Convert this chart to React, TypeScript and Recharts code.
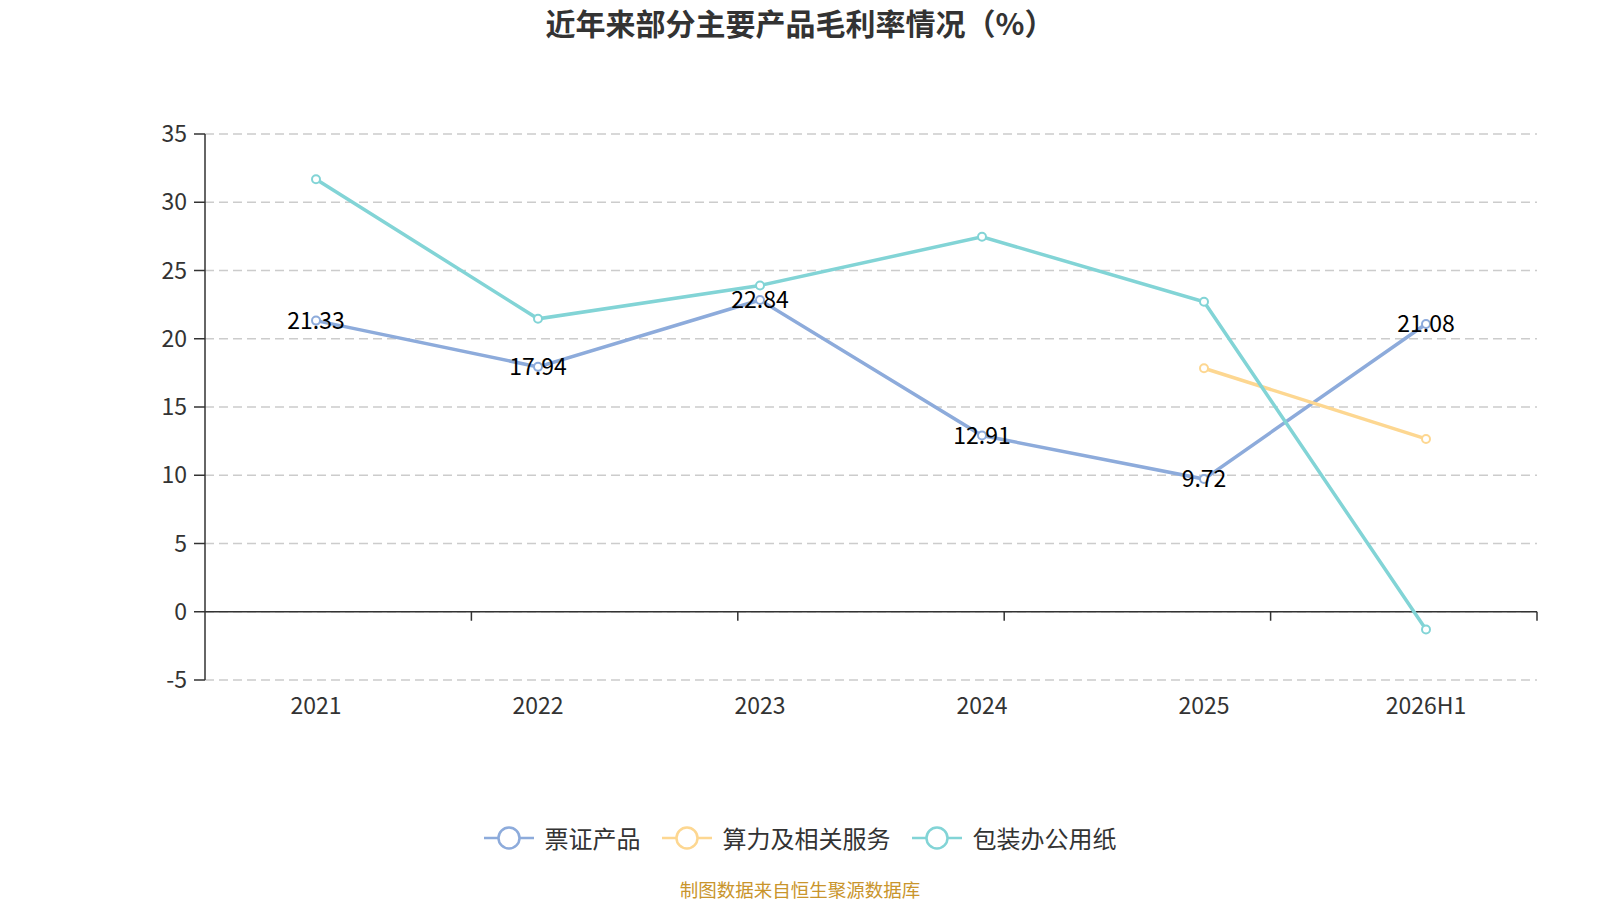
import React from "react";
import {
  LineChart,
  Line,
  XAxis,
  YAxis,
  CartesianGrid,
  ReferenceLine,
  LabelList,
} from "recharts";

const FONT = '"Noto Sans CJK SC", "Noto Sans", sans-serif';

const years = ["2021", "2022", "2023", "2024", "2025", "2026H1"];
const piaoZheng = [21.33, 17.94, 22.84, 12.91, 9.72, 21.08];
const suanLi = [null, null, null, null, 17.84, 12.66];
const baoZhuang = [31.69, 21.46, 23.9, 27.47, 22.71, -1.3];
const yTicks = [-5, 0, 5, 10, 15, 20, 25, 30, 35];

const series = [
  { key: "piaoZheng", name: "票证产品", color: "#8dabdb", labels: true },
  { key: "suanLi", name: "算力及相关服务", color: "#fdd791", labels: false },
  { key: "baoZhuang", name: "包装办公用纸", color: "#82d4d6", labels: false },
];

const data = years.map((year, i) => ({
  year,
  piaoZheng: piaoZheng[i],
  suanLi: suanLi[i],
  baoZhuang: baoZhuang[i],
}));

// band boundaries for the small ticks hanging under the zero line
const boundaries = [1, 2, 3, 4, 5, 6];

const YearTick = (props: any) => {
  const { x, y, payload } = props;
  return (
    <text
      x={x}
      y={y + 16}
      textAnchor="middle"
      dominantBaseline="central"
      fill="#333"
      fontSize={23}
      fontFamily={FONT}
    >
      {payload.value}
    </text>
  );
};

const ValueLabel = (props: any) => {
  const { x, y, value } = props;
  if (value == null) return null;
  return (
    <text
      x={x}
      y={y - 2}
      textAnchor="middle"
      dominantBaseline="central"
      fill="#000"
      fontSize={23}
      fontFamily={FONT}
    >
      {value.toFixed(2)}
    </text>
  );
};

export default function App() {
  return (
    <div
      style={{
        position: "absolute",
        left: 0,
        top: 0,
        width: 1600,
        height: 900,
        background: "#fff",
        fontFamily: FONT,
      }}
    >
      {/* Title */}
      <div
        style={{
          position: "absolute",
          top: 0,
          left: 0,
          width: 1600,
          height: 44,
          lineHeight: "44px",
          textAlign: "center",
          fontSize: 30,
          fontWeight: 700,
          color: "#333",
        }}
      >
        近年来部分主要产品毛利率情况（%）
      </div>

      <LineChart
        width={1600}
        height={900}
        data={data}
        margin={{ top: 134, right: 63, left: 145, bottom: 190 }}
      >
        <CartesianGrid
          vertical={false}
          stroke="#cccccc"
          strokeDasharray="9 5"
          strokeWidth={1.5}
        />
        <XAxis
          dataKey="year"
          scale="band"
          axisLine={false}
          tickLine={false}
          height={30}
          interval={0}
          tick={<YearTick />}
        />
        <XAxis xAxisId="band" type="number" domain={[0, 6]} hide />
        <YAxis
          domain={[-5, 35]}
          ticks={yTicks}
          interval={0}
          width={60}
          axisLine={{ stroke: "#333", strokeWidth: 1.5 }}
          tickLine={{ stroke: "#333", strokeWidth: 1.5 }}
          tickSize={11}
          tickMargin={7}
          tick={{ fill: "#333", fontSize: 23, fontFamily: FONT }}
        />
        <ReferenceLine y={0} stroke="#333" strokeWidth={1.5} />
        {boundaries.map((b) => (
          <ReferenceLine
            key={b}
            xAxisId="band"
            segment={[
              { x: b, y: 0 },
              { x: b, y: -0.66 },
            ]}
            stroke="#333"
            strokeWidth={1.5}
          />
        ))}
        {series.map((s) => (
          <Line
            key={s.key}
            type="linear"
            dataKey={s.key}
            name={s.name}
            stroke={s.color}
            strokeWidth={3.5}
            dot={{ r: 4, fill: "#fff", stroke: s.color, strokeWidth: 2 }}
            activeDot={false}
            connectNulls={false}
            isAnimationActive={false}
          >
            {s.labels && (
              <LabelList dataKey={s.key} content={<ValueLabel />} />
            )}
          </Line>
        ))}
      </LineChart>

      {/* Legend */}
      <div
        style={{
          position: "absolute",
          top: 822,
          left: 0,
          width: 1600,
          display: "flex",
          justifyContent: "center",
          alignItems: "center",
          gap: 21,
        }}
      >
        {series.map((s) => (
          <div
            key={s.key}
            style={{ display: "flex", alignItems: "center", gap: 11 }}
          >
            <svg width={50} height={26}>
              <line x1={0} y1={13} x2={50} y2={13} stroke={s.color} strokeWidth={2.5} />
              <circle cx={25} cy={13} r={10.5} fill="#fff" stroke={s.color} strokeWidth={2.5} />
            </svg>
            <span style={{ fontSize: 24, color: "#333", lineHeight: "32px" }}>
              {s.name}
            </span>
          </div>
        ))}
      </div>

      {/* Source */}
      <div
        style={{
          position: "absolute",
          top: 876,
          left: 0,
          width: 1600,
          textAlign: "center",
          fontSize: 18.5,
          lineHeight: "26px",
          color: "#c9952c",
        }}
      >
        制图数据来自恒生聚源数据库
      </div>
    </div>
  );
}
